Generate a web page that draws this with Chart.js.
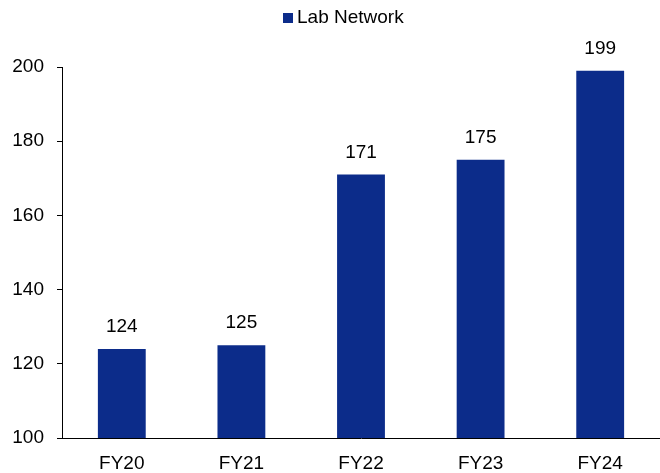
<!DOCTYPE html>
<html>
<head>
<meta charset="utf-8">
<script src="https://cdn.jsdelivr.net/npm/chart.js@4"></script>
<style>
  html, body { margin: 0; padding: 0; background: #fff; }
  #wrap { width: 660px; height: 473px; }
</style>
</head>
<body>
<div id="wrap"><canvas id="chartLab"></canvas></div>
<script>
const years = ['FY20', 'FY21', 'FY22', 'FY23', 'FY24'];
const labNetwork = [124, 125, 171, 175, 199];
const yTicks = [100, 120, 140, 160, 180, 200];
const seriesName = 'Lab Network';
const barColor = '#0c2c8a';
const fontFamily = 'Arial, "Liberation Sans", sans-serif';

// numbers above each bar
const valueLabels = {
    id: 'valueLabels',
    afterDatasetsDraw(chart) {
        const ctx = chart.ctx;
        ctx.save();
        ctx.font = '19px ' + fontFamily;
        ctx.fillStyle = '#000';
        ctx.textAlign = 'center';
        ctx.textBaseline = 'middle';
        chart.getDatasetMeta(0).data.forEach((bar, i) => {
            ctx.fillText(labNetwork[i], bar.x, bar.y - 22);
        });
        ctx.restore();
    }
};

// small square key above the plot
const seriesKey = {
    id: 'seriesKey',
    afterDraw(chart) {
        const ctx = chart.ctx;
        ctx.save();
        ctx.fillStyle = barColor;
        ctx.fillRect(283, 13, 10, 10);
        ctx.font = '19px ' + fontFamily;
        ctx.fillStyle = '#000';
        ctx.textAlign = 'left';
        ctx.textBaseline = 'middle';
        ctx.fillText(seriesName, 297, 18);
        ctx.restore();
    }
};

new Chart(document.getElementById('chartLab'), {
    type: 'bar',
    data: {
        labels: years,
        datasets: [{
            label: seriesName,
            data: labNetwork,
            backgroundColor: barColor,
            barPercentage: 0.4,
            categoryPercentage: 1
        }]
    },
    options: {
        responsive: true,
        maintainAspectRatio: false,
        animation: false,
        layout: { padding: { top: 67, left: 0, right: 0, bottom: 0 } },
        plugins: {
            legend: { display: false },
            tooltip: { enabled: false }
        },
        scales: {
            x: {
                grid: { display: false },
                border: { color: '#000', width: 1 },
                afterFit(scale) { scale.height = 35; },
                ticks: {
                    color: '#000',
                    padding: 6,
                    font: { family: fontFamily, size: 19 }
                }
            },
            y: {
                min: 100,
                max: 200,
                afterBuildTicks(scale) {
                    scale.ticks = yTicks.map(v => ({ value: v }));
                },
                afterFit(scale) { scale.width = 62; },
                grid: { drawOnChartArea: false, tickLength: 5, color: '#000' },
                border: { color: '#000', width: 1 },
                ticks: {
                    color: '#000',
                    padding: 13,
                    font: { family: fontFamily, size: 19 }
                }
            }
        }
    },
    plugins: [valueLabels, seriesKey]
});
</script>
</body>
</html>
